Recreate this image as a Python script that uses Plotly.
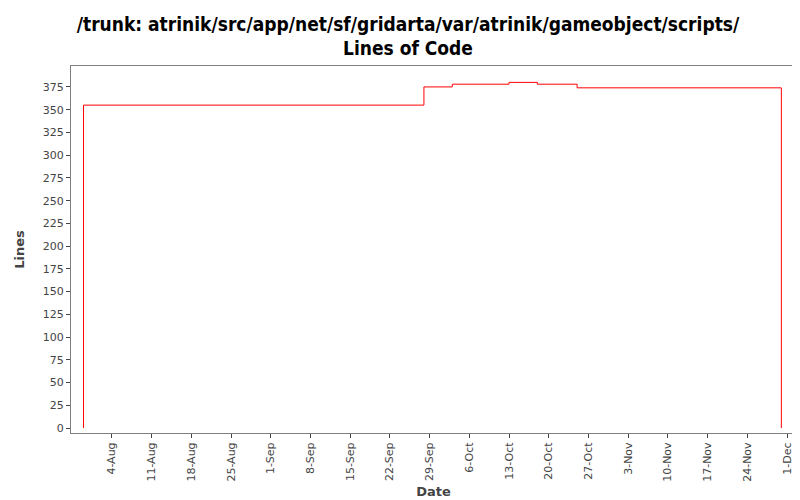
import plotly.graph_objects as go

dates = ["2002-07-30", "2002-09-28", "2002-10-03", "2002-10-13", "2002-10-18",
         "2002-10-25", "2002-11-30", "2002-11-30"]
lines = [355, 375, 378, 380, 378, 374, 374, 0]

tick_vals = ["2002-08-04", "2002-08-11", "2002-08-18", "2002-08-25", "2002-09-01",
             "2002-09-08", "2002-09-15", "2002-09-22", "2002-09-29", "2002-10-06",
             "2002-10-13", "2002-10-20", "2002-10-27", "2002-11-03", "2002-11-10",
             "2002-11-17", "2002-11-24", "2002-12-01"]
tick_text = ["4-Aug", "11-Aug", "18-Aug", "25-Aug", "1-Sep", "8-Sep", "15-Sep",
             "22-Sep", "29-Sep", "6-Oct", "13-Oct", "20-Oct", "27-Oct", "3-Nov",
             "10-Nov", "17-Nov", "24-Nov", "1-Dec"]

fig = go.Figure(go.Scatter(
    x=["2002-07-30"] + dates, y=[0] + lines,
    mode="lines", line=dict(color="red", width=1, shape="hv"),
))

fig.update_layout(
    width=800, height=500,
    margin=dict(l=62, r=11, t=58, b=69),
    plot_bgcolor="white", paper_bgcolor="white",
    font=dict(family="DejaVu Sans", size=11, color="#444"),
    showlegend=False,
    title=dict(
        text="<b>/trunk: atrinik/src/app/net/sf/gridarta/var/atrinik/gameobject/scripts/<br>Lines of Code</b>",
        x=0.5, xanchor="center", y=0.955, yanchor="top",
        font=dict(size=19, color="black", family="DejaVu Sans Condensed"),
    ),
)
fig.update_xaxes(
    range=["2002-07-27 19:00", "2002-12-02 14:00"],
    tickvals=tick_vals, ticktext=tick_text, tickangle=-90,
    showgrid=False, ticks="outside", ticklen=4,
    showline=True, linecolor="gray", mirror=True,
    title=dict(text="<b>Date</b>", font=dict(size=13), standoff=6),
)
fig.update_yaxes(
    range=[-5.4, 398], dtick=25,
    showgrid=False, ticks="outside", ticklen=4,
    showline=True, linecolor="gray", mirror=True,
    title=dict(text="<b>Lines</b>", font=dict(size=13)),
)

fig.write_html("out.html")
